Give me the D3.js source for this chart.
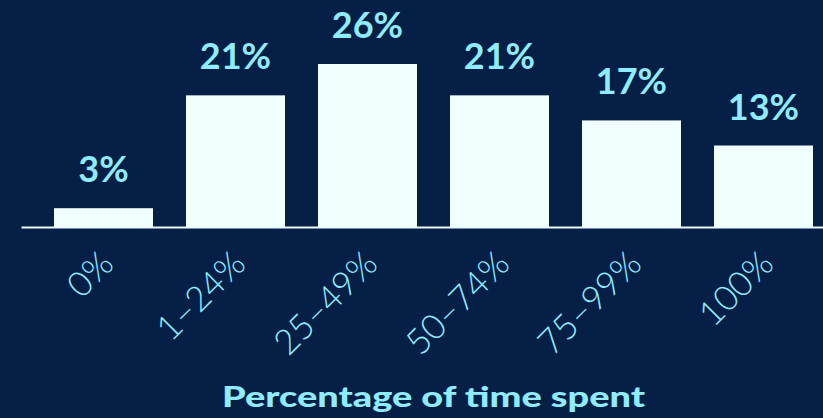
<!DOCTYPE html>
<html>
<head>
<meta charset="utf-8">
<script src="https://cdn.jsdelivr.net/npm/d3@7/dist/d3.min.js"></script>
<style>
  html, body { margin: 0; padding: 0; background: #061f47; }
  svg { display: block; }
</style>
</head>
<body>
<svg id="chart" width="823" height="418"></svg>
<script>
// Share of respondents by percentage of time spent
const categories = ["0%", "1\u201324%", "25\u201349%", "50\u201374%", "75\u201399%", "100%"];
const values = [3, 21, 26, 21, 17, 13];
const valueLabels = ["3%", "21%", "26%", "21%", "17%", "13%"];
const axisTitle = "Percentage of time spent";

const W = 823, H = 418;
const bg = "#061f47", barFill = "#f0fefe", labelFill = "#8eecfc";

const svg = d3.select("#chart");
svg.append("rect").attr("width", W).attr("height", H).attr("fill", bg);

const x = d3.scaleBand()
  .domain(categories)
  .range([21, 846])
  .paddingInner(0.25)
  .paddingOuter(0.25);

const y = d3.scaleLinear()
  .domain([0, 26])
  .range([227, 64]);

const data = categories.map((c, i) => ({ c, v: values[i], label: valueLabels[i] }));

// bars
svg.append("g")
  .selectAll("rect")
  .data(data)
  .join("rect")
  .attr("x", d => x(d.c))
  .attr("y", d => y(d.v))
  .attr("width", x.bandwidth())
  .attr("height", d => y(0) - y(d.v))
  .attr("fill", barFill);

// value labels above the bars
svg.append("g")
  .selectAll("text")
  .data(data)
  .join("text")
  .attr("x", d => x(d.c) + x.bandwidth() / 2)
  .attr("y", d => y(d.v) - 26)
  .attr("text-anchor", "middle")
  .attr("fill", labelFill)
  .style("font-family", "Lato, 'Open Sans', sans-serif")
  .style("font-weight", 700)
  .style("font-size", "36px")
  .text(d => d.label);

// category axis with rotated tick labels
const axis = svg.append("g")
  .attr("transform", `translate(0,${y(0)})`)
  .call(d3.axisBottom(x).tickSize(0).tickSizeOuter(0));

axis.select(".domain")
  .attr("stroke", "#eafcff")
  .attr("stroke-width", 2);

axis.selectAll(".tick text")
  .attr("x", 0)
  .attr("y", 0)
  .attr("dy", 0)
  .attr("text-anchor", "end")
  .attr("transform", "translate(12,39) rotate(-45)")
  .attr("fill", labelFill)
  .style("font-family", "Lato, 'Open Sans', sans-serif")
  .style("font-weight", 300)
  .style("font-size", "35px");

// axis title
svg.append("text")
  .attr("x", 433.5)
  .attr("y", 407)
  .attr("text-anchor", "middle")
  .attr("fill", labelFill)
  .style("font-family", "Lato, 'Open Sans', sans-serif")
  .style("font-weight", 900)
  .style("font-size", "29px")
  .attr("textLength", 423)
  .attr("lengthAdjust", "spacingAndGlyphs")
  .text(axisTitle);
</script>
</body>
</html>
